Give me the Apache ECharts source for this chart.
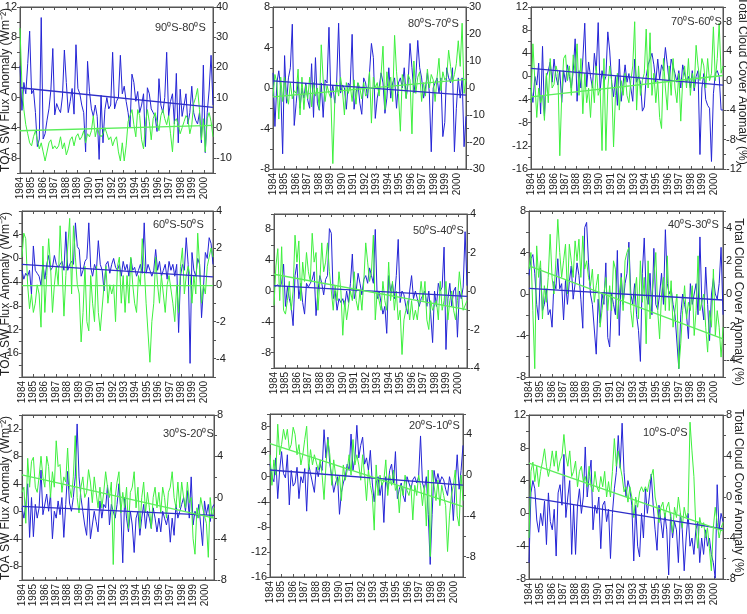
<!DOCTYPE html>
<html>
<head>
<meta charset="utf-8">
<title>TOA SW flux and total cloud cover anomalies</title>
<script src="https://cdn.jsdelivr.net/npm/echarts@6/dist/echarts.min.js"></script>
<style>
  html, body { margin: 0; padding: 0; background: #fff; }
  #main { width: 747px; height: 614px; }
</style>
</head>
<body>
<div id="main"></div>
<script>
// years on the time axis (labels)
var years = [1984, 1985, 1986, 1987, 1988, 1989, 1990, 1991, 1992,
             1993, 1994, 1995, 1996, 1997, 1998, 1999, 2000];
var xMin = 1984, xMax = 2000.8;

var regions = ['90⁰S-80⁰S', '80⁰S-70⁰S', '70⁰S-60⁰S',
               '60⁰S-50⁰S', '50⁰S-40⁰S', '40⁰S-30⁰S',
               '30⁰S-20⁰S', '20⁰S-10⁰S', '10⁰S-0⁰S'];

// TOA SW flux anomaly (Wm-2), bimonthly reading, one row per year
var p1Flux = [4.2, -1.7, 2.0, 0.5, 4.5, 8.8,
  0.5, 1.0, -2.0, -6.5, -5.5, 10.6,
  -5.5, -4.8, -3.0, -1.5, 1.0, 6.5,
  -2.3, -0.8, -1.5, -2.0, 0.2, 6.3,
  2.0, -2.0, -0.5, 1.2, -2.2, 7.0,
  1.2, 0.5, -1.0, -2.0, -7.2, 4.8,
  0.8, -1.5, -2.5, -1.0, -2.5, -8.2,
  0.3, -6.0, -1.6, 0.0, -1.5, -1.0,
  6.0, -1.5, -0.5, 0.0, 5.6, 0.5,
  1.5, -0.5, -2.0, -4.0, 3.1, 2.0,
  -0.5, 0.8, -2.0, -1.0, 0.5, -6.5,
  1.3, 0.5, -1.5, -2.0, -2.5, -4.5,
  2.5, -1.0, -2.0, 0.0, 6.0, -2.5,
  -0.5, 0.5, -3.5, 3.2, -6.0, 1.1,
  -2.5, -1.0, 0.5, -3.5, -2.0, 1.5,
  -2.0, -3.0, -3.5, -2.0, -6.0, 4.3,
  -7.3, -2.0, 1.0, 5.6, -1.0];
var p2Flux = [1.5, -3.8, 0.5, 1.7, 0.0, -6.5,
  3.2, -1.5, 1.0, 2.0, 6.3, -3.7,
  -1.5, 0.7, -2.0, 0.0, -1.0, 0.5,
  -1.2, -2.0, 2.4, -2.9, 3.0, -1.5,
  -2.2, 0.5, -2.9, 0.8, 0.5, 6.0,
  -1.0, 0.3, -1.5, 0.7, 6.4, -0.5,
  0.3, 0.0, -2.1, 0.5, 0.2, 5.3,
  -2.1, -0.5, 0.5, -1.5, -2.6, 1.0,
  0.5, -1.0, 1.5, 4.4, 3.0, -3.0,
  -1.0, 0.0, 1.5, 0.5, -2.5, -1.0,
  2.0, -1.0, 0.5, 1.0, -2.0, 0.5,
  1.0, 0.0, 2.0, -1.0, 0.5, 4.4,
  2.0, -0.5, 1.0, 4.7, 2.0, 1.0,
  -1.0, 0.0, 1.5, -0.5, -6.3, 0.0,
  0.5, 1.0, -0.5, 1.0, -4.8, -3.4,
  2.0, 1.0, 0.5, 2.0, -6.3, -2.0,
  1.0, -1.0, 1.0, -5.8, -2.8];
var p3Flux = [-2, -4.5, 0, -1.5, 2.3, -6.5,
  5.2, -6.8, 0, 1, 2.5, -1,
  3, 0, -1.5, 1, -4.5, 1,
  -1, 2, 0, -2, 1, 6.5,
  -4.3, 1, -2, 3, 9.2, -1.8,
  2.5, 0, -2, 4, 1, 9.3,
  -2.5, 1, -1, 0, 7.7, 4.4,
  -1, -3.5, 0, -5, 3, -4.3,
  -4.3, 2, -1, 0.5, -2, -4.3,
  3, -1, 0, -1, -6, -5.3,
  0, 2, 3, 4, 2, -1,
  3, -0.5, 2, 1, 5, 2,
  -1, 3, 3, 0.5, -1, 1,
  -2, 2, 2, -1, 0, -2,
  1, -2.5, 0, 1, -13.5, -2,
  0.5, -4, -5, -5.5, -14.7, -3,
  0.5, 1, 0, -5.8, -5.8];
var p4Flux = [-2, -3.5, -2.5, -3, -2, -6,
  2.1, -2, -2.5, -3, -4.5, -1,
  -3.5, -1, 0.5, -2, -1.5, 0.5,
  -1, -1.5, -1, -0.5, -2, 4.5,
  -2, -1, -0.5, -1, 6, 2,
  1.5, -3, -2, -0.5, 0, 6,
  -1.5, -3, -1, -2, 3, -1,
  -2, -5.5, -1, -0.5, -2.5, -1,
  0, -1.5, -2, -1, -3, -0.5,
  -2, -1, -3, 0, -2, -1.5,
  -3, -2, -1, -2.5, 6, -2.5,
  -1, -2, -3, -2, 1.5, -2,
  -0.5, -3, -2, -1, -3.5, -0.5,
  -2, -1, -3, -1, -12.5, -3,
  -1, -2, 3.5, -1, -17.7, 1,
  -2, -3, 0, -1, -10, -5,
  1, 0, 3.5, 2.5, -1];
var p5Flux = [0.5, 0.7, 0.8, 0.5, 1, 3.5,
  -2, 0.5, -1, -2, -4.5, 2,
  3.5, -1, 1, -1.5, -3, 1,
  0.5, 1, 1.5, 2.5, -3.2, 0,
  2, 1, -0.5, 1.5, 2, 8.1,
  7.5, -1, 0, -2.5, -1, -1.5,
  -1, -2, 0, -1.5, 1, 4.8,
  -1, 0, 2.3, 1, -0.5, 1.5,
  2, 1, 3, 2, 1, 8,
  -1, 0, -1.5, -3, -2, -5.5,
  2, 0, 1, -1, 2, 6.7,
  -1.5, 0, -0.5, -2, -3, 0,
  2, -1, 0, -1, -2, -1,
  -1, 0, -2, 0, -3, -6.7,
  0, -2, 1, 0, 0.5, 5.7,
  -7.6, -1, 1, -2, 0, 0.5,
  -6, 0, -1, 0.5, 7.7, 0.7];
var p6Flux = [1.8, 3.4, 3.8, 2, -1, -2.5,
  2.5, -1.6, -1, 0.5, -2, -1.5,
  -3.2, 1.2, 0.5, 3.4, 0.5, 1,
  -2.5, 1.3, -1, 1.2, 2.7, -0.5,
  1, 3, 1.8, -0.5, -3.3, 6.4,
  6.9, 3, 0, -1, -1, -5.8,
  -0.5, -2.8, 0, -1, 3, -4.2,
  -5.1, 0, -1, -2, 4.2, -4,
  2, -1, 1, 2, 5, 0,
  -1, 1, -2, -3.5, -6.5, 2,
  5.4, 0, -1, 2, -2, 4.4,
  -1, -1.5, 0, 2, -1, 6.2,
  1, 0, 0.5, -1, -2, -2,
  -7.2, -2, 0, -1, -2, -4.3,
  1, -1, 0, 1, -2, 5.5,
  -1, -2.5, 2.6, -1, -4.5, 0,
  1.5, 0, -0.5, 1, 4.5, -2];
var p7Flux = [0.5, -1, 1, 4, -3.8, 2,
  -3.7, 1, -1, 0.5, 6, -0.5,
  -0.5, 2.5, 0, 2.5, -4, 0,
  -1, 1.5, -0.5, 2, -3.8, 1,
  5.8, 1.2, 0, 2, 5, 12.7,
  5, 2, 0, -2, -3.5, 2,
  -4, -2, 0, -1.5, -3, 1.5,
  -1, 1, 0.5, 3.8, -2, 1,
  0, -1, 1, 4, 0, -7.5,
  2, -1, -3, 0, -2, -6,
  -1, 0, -3.5, -1, 1, -2.5,
  0, -1, -2.5, 0.5, -1, -3,
  -1, -3, 0, -1, -2, -0.5,
  -4.5, -1, -3.5, 1, -1, 0,
  1, 2, 0, 3, -1, 5,
  -2, 0, -1, 1, -2, -5,
  1.5, -0.5, 1, -1.5, 0.5, 1];
var p8Flux = [2, 0, -0.8, 3, -3.5, 1,
  4, 0.5, -0.2, 3.5, -4.5, 1,
  -1.5, -1, 1.5, -3.5, 0, -1,
  1.3, -5.5, 2, 0.5, -1, -2.5,
  1.5, 0, 2, 1, 7.5, 3,
  6.3, 2, 0, -2.5, -1, 0,
  -6, -2.5, -1, 0, 2, 1,
  6.8, 1, 3, 8.2, 3, 5,
  6.3, 2, 3, 1, 4.2, -1,
  -4, -1, 0, -3, -1, -7.3,
  0, -2, 1, 2, -1, 4,
  -3.5, -2, -1, -3, -4, 0,
  -1, -2, -0.5, 0, -1, 0,
  6.5, -1, -2, 0, -6, -14,
  -6, 1, -1, 0.5, -1, 0,
  -0.5, -2, -3, 0, -1.5, -7,
  -1, 3.5, -2, 1, 5];
var p9Flux = [-6, 2.5, 4, 3, -0.8, -2.3,
  0, -1.5, 1.5, -3.8, 2.5, -1,
  -2, 0.5, -5.2, 2.5, 3.5, 1,
  7.2, -0.5, 2, 4, -5, 1,
  -5, 1, 3, 0, 2, 8.1,
  2, 4.5, 6.5, -2, 1, 0,
  2, -4.3, 1, 1.5, -1, 0.5,
  -5.5, 0, 3, 5, 9.5, 5.5,
  11, 5, 2, 4, 3, 1,
  -5.8, 1, -4, -5.3, 0, -3,
  3, 0, 2, 4.8, 1, -2,
  -4.5, 1, -1, -3, 0, -2,
  -7.5, 0, -3, -1, -2, -6,
  0, -2, -7, -3, 0, -4,
  -3, -5, -2, -1, -6, -3,
  -5, -2, -4, -3, -5, -6,
  -7.9, 3.5, -2, 0, -1];

// Total cloud cover anomaly (%), same sampling
var p1Cloud = [33, 14, 6, 1, -2, -5,
  -6, -3, -1, -4, -7, -5,
  -8, -11, -11, -5, -4, -7,
  -6, -7, -6, -3, -7, -5,
  -9, -7, -4, -3, -6, -3,
  -2, -4, -3, -1, -5, -2,
  -3, -1, 4, -3, 0, -2,
  -3, -2, 0, -2, -4, -3,
  -6, -4, -3, -8, -11, -5,
  -11, -6, 2, 4, 6, 1,
  -3, 6, 4, -4, -7, 1,
  6, 2, -4, 3, 5, 2,
  -1, 4, 6, 3, 1, 4,
  -2, -8, 2, 3, 1, -2,
  0, 2, 4, 3, -2, 1,
  8, 10, 13, 6, -4, 3,
  -8, 3, 5, 2, -3];
var p2Cloud = [-3, 5, 2, -11.5, 4, -5,
  4, -3, -6, 2, -4, -1,
  -2, 7, -10, 4, -8, 1,
  -4, 4, -7, 2, -3, 0,
  -8, 16, 3, -5, 1, -2,
  -4, -28, -5, 2, -3, 4,
  -1, -10, 2, -2, 1, -5,
  3, -6, 2, 0, -4, 2,
  -3, -2, 6, -13, 4, 0,
  2, -3, 5, 15.5, -8, 6,
  0, 4, -5, 19.5, 6, -2,
  -16, 5, 2, -4, 5, 3,
  -17, 10, -2, 4, 6, -5,
  2, -3, 7, 0, 5, 3,
  -5, 4, 11, -1, 6, 3,
  4, 14, 8, 2, 5, 9,
  17.5, 8, 24, -2, 3];
var p3Cloud = [-3, 5, 0, -5, -1, -3,
  -2, -5.4, 1, -3, 3, -1,
  -0.5, 2, 1, -10.2, -2, 3,
  3.5, 0, 2, -2, 3.5, 1,
  5, -2, 3, -4.5, 1, -3,
  -1, -5, 0, -3, 2, -2,
  -1, -9.5, 3, -9.5, -1, 2,
  0, -9, -2, 1, -4, 0,
  -2, 1, -2, -3, 0, 2,
  8, -4, 2, -2, 0, 1,
  7, -1, 6.5, -2, 1, -3,
  0, -5, -6.5, 3, -1, -4,
  2, -2, 3, -1, -3, 1,
  -5.5, 0, 2, -1, 3, -2,
  1, -1, 4.8, 2, 0, 3,
  2, -1, 3, 0, 1, 7.3,
  0, 3, 7.8, 1, 2];
var p4Cloud = [1.5, 2.8, 2.5, 0, -1.3, -0.5,
  -1.5, -1, 0, -0.5, -2.3, 2.1,
  -1.5, 0.5, 2.5, 1, -1.5, 0,
  1, 0, 3.2, 1, -1.7, 0.5,
  0.5, 3.6, -0.5, 3.2, 1.5, 0,
  -0.5, -3.1, -1.5, 1, -2, -2.5,
  0.5, -1, -2, 1, -1.5, -2.5,
  -2.5, 0, 1, -1, 0, -0.5,
  0, -2, 1, 1.5, -1, 0.5,
  -1.5, 0.5, -1, 1.5, 0, -1,
  -1.5, 0.5, 0, 2.5, 1, -1,
  -1, -4.2, -2, -1, 1.5, 0,
  -1, 0.5, -0.5, -1.5, 0, 0.5,
  0.5, -1, -2, 0, -1.5, 1,
  2, -0.5, 0.5, 1, 0.5, -1,
  0.5, -0.5, 2.8, 1, -1, 0,
  -0.5, 1, 1.5, 2, 1.5];
var p5Cloud = [-0.75, 1.3, 2.2, -0.5, 2.3, -1,
  -1.2, -0.5, 0.5, -1, 0, 2.9,
  1.5, 2.6, -0.5, 1.5, 0.5, 2,
  1, 0.5, 3.0, 1.5, 2, -1,
  0.5, 2.5, 1, 1.5, 2.5, 1,
  1, -1, 0.3, -0.5, 1, 0,
  -2.3, -0.5, -1.5, -1.6, 0, -0.5,
  1, -0.5, -1, 0, -1, 0.5,
  2.5, 1.5, 0.5, 1, 2.9, -1.5,
  0, -0.5, -1, 0.5, -0.5, -1,
  1.5, -0.5, 0.5, -1, 0, -1.5,
  -1, -3.3, -1.5, -1, -0.5, -1.5,
  -0.5, -1.5, -1, -1.5, -0.5, 0.5,
  -0.5, 0.5, -1.5, -2, -0.5, -1,
  -1, -0.5, -1.5, 0.5, -1, -0.5,
  0.5, -1.5, -0.5, 0, -1, -1.5,
  -0.5, 1, 0, -1, -1, -0.5];
var p6Cloud = [1.5, 2.5, -1, -4.5, 2.9, 1,
  2, -1.5, 0.5, -0.5, 1, 3.6,
  1, 0, 2, 4.5, 2.5, 1,
  2, 3, 0, 3, 2, 1,
  3.2, 2, 3.3, 1, 3.5, 1.5,
  2, 1, 0.5, 1.5, -0.5, 0.5,
  1.2, -2, -1, 0, 1, -1,
  0.5, -1, 2, 1.5, -1.5, 0,
  1, -1, 2, 2.5, 2.8, -1,
  -2, 0, 1, -1.5, 2, -0.5,
  1, -3, 2, -1.5, 0, 1,
  2.5, -1, -2.7, 0, 1, -1,
  2.3, -1, 0.8, -2, -1, 0,
  -4.5, -3, -1, 0.5, -1.5, -0.5,
  -1, 0.5, -2.5, -1, 2.3, -1,
  -0.5, 0, -2, -3.5, -1, -2,
  1.5, -2.5, -1, -2, -3.8, -2];
var p7Cloud = [0.5, 1, -2.5, 3.8, 1, 3.5,
  3.9, 1, 0.5, 2, 4, 2,
  1, 4, 3, 0, 2.5, 1,
  5.5, 3, 3.2, 0.5, 2, 1.5,
  4.8, 1, 0, 2, 6, 0,
  -1.5, 1, 2, 0, 0.5, 2.7,
  1.5, -0.5, 2, 0.5, -1, 1,
  -1, 0.5, 2.5, 1, 0, 1.5,
  -6.5, 0, 1.5, 2.5, -1.5, 0.5,
  -1, 1, -3, 0.5, 1, 2.5,
  -1, 1, -3, 0, 1.5, -1.5,
  0.5, -1, -3, 0, 1, -1,
  0.5, -1.5, 1, 0, -2, 0.5,
  1, 2.5, 0, -1, 1.5, -1,
  1.5, 0, -1, 1.5, -0.5, 0,
  -4, -5.5, -1, -2, 0, -1,
  -1, -2.5, -5.8, 0, -2, -1];
var p8Cloud = [2, -1, 1.5, 0, 5, 2,
  3, 4.5, 3.5, 4.5, 2.5, 3,
  4.7, 4, 2, 3, 1, 2,
  3.5, 4.8, 0.5, 2.5, 1, 2,
  2, 0.5, 1.5, 0, -2.4, 1,
  3.5, 2, -1, 1.5, 0, -1,
  0, -2.5, 1, -0.5, 0.5, 2,
  0, 3.5, 1, 2, 1, -0.5,
  2, 0, -2.5, 0.5, -1, -2,
  -5.4, 1, -2, 0, -1, -0.5,
  1.5, -2, 0, -1, 0.5, -1.5,
  -1, -3.7, -1, -2, 0, -1.5,
  -2, -1, -4.4, -1, -2, 0,
  -1, -3, -1, -5, 0.5, -8,
  0.5, -1, -2.5, -0.5, -3, -1,
  -2, -3, -7.5, -4, -2, -1,
  0.5, -4, -5, 0, -2.5];
var p9Cloud = [-4, 2.5, 3.4, 1.5, 3, 1,
  2.5, 3.5, 4.7, 3, 2, 3,
  4.5, 3, 4.5, 2.5, 3.5, 4,
  6.1, 4, 3, 4.5, 2, 2.5,
  3.5, 1, 2.5, 3, 1.5, 2,
  1, 3, 1, 0.5, 2.5, 1,
  0.5, 2, 1, 2.5, 0, 1.5,
  0, 2.5, 5.7, 3, 4.5, 3,
  2, 0.5, 1, -0.5, 1, 0,
  -2, 0, -1, 0.5, 1, 0.5,
  1, 0.5, 1.5, 2, 2.7, 0,
  -1, -2.5, -1, -0.5, -2, -1,
  -0.5, -2, -3.5, -1, -2, 0,
  0, -3, -1, -2, -1.5, 7.3,
  4.5, 2, -3, -5, -2, -3,
  -2.5, -4, -3, -5, -7.2, -3,
  -1, -2.5, -4, -3, -2.5];

// linear trend end values [start, end]
var fluxTrend = [[1.3, -1.3], [0.7, -0.7], [1.4, -1.5], [-1.0, -3.1], [0.7, -0.7],
                 [0.55, -0.58], [0.7, -0.6], [1.07, -1.33], [1.95, -1.9]];
var cloudTrend = [[-1, 0.8], [-3.3, 3.2], [-2.2, 0.7], [-0.05, -0.05], [0.87, -0.97],
                  [1.7, -2.7], [2.2, -2.0], [3.1, -3.1], [3.3, -3.3]];

// axis ranges [min, max, interval] and labelled ticks
var fluxRange = [[-10, 12, 2], [-8, 8, 2], [-16, 12, 2], [-20, 8, 2], [-10, 10, 2],
                 [-8, 8, 2], [-10, 14, 2], [-16, 10, 2], [-8, 12, 2]];
var cloudRange = [[-15, 40, 5], [-30, 30, 5], [-12, 10, 2], [-5, 4, 1], [-4, 4, 1],
                  [-5, 5, 1], [-8, 8, 2], [-10, 6, 2], [-8, 8, 2]];
var fluxTicks = [[12, 8, 4, 0, -4, -8], [8, 4, 0, -4, -8], [12, 8, 4, 0, -4, -8, -12, -16],
                 [4, 0, -4, -8, -12, -16], [8, 4, 0, -4, -8], [8, 4, 0, -4, -8],
                 [12, 8, 4, 0, -4, -8], [8, 4, 0, -4, -8, -12, -16], [12, 8, 4, 0, -4, -8]];
var cloudTicks = [[40, 30, 20, 10, 0, -10], [30, 20, 10, 0, -10, -20, -30], [8, 4, 0, -4, -8, -12],
                  [4, 2, 0, -2, -4], [4, 2, 0, -2, -4], [4, 2, 0, -2, -4],
                  [8, 4, 0, -4, -8], [4, 0, -4, -8], [8, 4, 0, -4, -8]];

var fluxData = [p1Flux, p2Flux, p3Flux, p4Flux, p5Flux, p6Flux, p7Flux, p8Flux, p9Flux];
var cloudData = [p1Cloud, p2Cloud, p3Cloud, p4Cloud, p5Cloud, p6Cloud, p7Cloud, p8Cloud, p9Cloud];

// panel boxes [left, top, width, height] and region label positions
var boxes = [[20, 7, 193, 166], [273, 7, 193, 162], [531, 7, 192, 162],
             [21, 211, 192, 166], [274, 214, 193, 154], [529, 211, 194, 166],
             [22, 415, 192, 165], [270, 414, 193, 163], [529, 415, 194, 164]];
var labelPos = [[155, 22], [408, 18], [671, 16], [153, 219], [413, 225],
                [668, 219], [163, 428], [409, 420], [643, 427]];

var BLUE = '#2424d6', GREEN = '#3ef03e';
var AXIS = '#555';

function toPoints(vals) {
  var step = (xMax - xMin) / (vals.length - 1);
  return vals.map(function (v, i) { return [xMin + i * step, v]; });
}

function tickFormatter(list) {
  return function (v) { return list.indexOf(v) >= 0 ? String(v) : ''; };
}

var chart = echarts.init(document.getElementById('main'), null, { renderer: 'canvas' });

var grid = [], xAxis = [], yAxis = [], series = [], graphic = [];

boxes.forEach(function (b, i) {
  grid.push({ left: b[0], top: b[1], width: b[2], height: b[3], show: true,
              borderColor: AXIS, borderWidth: 1, backgroundColor: 'transparent' });

  // bottom axis with year labels
  xAxis.push({
    type: 'value', gridIndex: i, position: 'bottom', min: xMin, max: xMax, interval: 1,
    axisLine: { onZero: false, lineStyle: { color: AXIS } },
    axisTick: { inside: true, length: 3, lineStyle: { color: AXIS } },
    axisLabel: { rotate: 90, fontSize: 10, color: '#222', margin: 4,
                 fontFamily: 'Liberation Sans', showMaxLabel: false,
                 formatter: function (v) { return years.indexOf(v) >= 0 ? String(v) : ''; } },
    splitLine: { show: false }
  });
  // top axis, ticks only
  xAxis.push({
    type: 'value', gridIndex: i, position: 'top', min: xMin, max: xMax, interval: 1,
    axisLine: { onZero: false, lineStyle: { color: AXIS } },
    axisTick: { inside: true, length: 3, lineStyle: { color: AXIS } },
    axisLabel: { show: false },
    splitLine: { show: false }
  });

  var fr = fluxRange[i], cr = cloudRange[i];
  yAxis.push({
    type: 'value', gridIndex: i, position: 'left', min: fr[0], max: fr[1], interval: fr[2],
    axisLine: { show: true, onZero: false, lineStyle: { color: AXIS } },
    axisTick: { show: true, length: 3, lineStyle: { color: AXIS } },
    axisLabel: { fontSize: 11, color: '#222', margin: 3, fontFamily: 'Liberation Sans',
                 formatter: tickFormatter(fluxTicks[i]) },
    splitLine: { show: false }
  });
  yAxis.push({
    type: 'value', gridIndex: i, position: 'right', min: cr[0], max: cr[1], interval: cr[2],
    axisLine: { show: true, onZero: false, lineStyle: { color: AXIS } },
    axisTick: { show: true, length: 3, lineStyle: { color: AXIS } },
    axisLabel: { fontSize: 11, color: '#222', margin: 3, fontFamily: 'Liberation Sans',
                 formatter: tickFormatter(cloudTicks[i]) },
    splitLine: { show: false }
  });

  series.push({
    type: 'line', xAxisIndex: 2 * i, yAxisIndex: 2 * i, data: toPoints(fluxData[i]),
    symbol: 'none', lineStyle: { color: BLUE, width: 1 }, z: 2
  });
  series.push({
    type: 'line', xAxisIndex: 2 * i, yAxisIndex: 2 * i + 1, data: toPoints(cloudData[i]),
    symbol: 'none', lineStyle: { color: GREEN, width: 1 }, z: 3
  });
  series.push({
    type: 'line', xAxisIndex: 2 * i, yAxisIndex: 2 * i,
    data: [[xMin, fluxTrend[i][0]], [xMax, fluxTrend[i][1]]],
    symbol: 'none', lineStyle: { color: '#2e2ec8', width: 1.3 }, z: 4
  });
  series.push({
    type: 'line', xAxisIndex: 2 * i, yAxisIndex: 2 * i + 1,
    data: [[xMin, cloudTrend[i][0]], [xMax, cloudTrend[i][1]]],
    symbol: 'none', lineStyle: { color: '#5cee5c', width: 1.3 }, z: 4
  });

  graphic.push({
    type: 'text', x: labelPos[i][0], y: labelPos[i][1], z: 10,
    style: { text: regions[i], fontSize: 11, fill: '#333', fontFamily: 'Liberation Sans',
             align: 'left', verticalAlign: 'top' }
  });
});

// axis titles
[90, 294, 498].forEach(function (y) {
  graphic.push({
    type: 'text', x: 6, y: y, rotation: Math.PI / 2, z: 10,
    style: { text: 'TOA SW Flux Anomaly (Wm⁻²)', fontSize: 12, fill: '#222',
             fontFamily: 'Liberation Sans', align: 'center', verticalAlign: 'middle' }
  });
});
[[742, 81], [738, 302], [738, 493]].forEach(function (p) {
  graphic.push({
    type: 'text', x: p[0], y: p[1], rotation: -Math.PI / 2, z: 10,
    style: { text: 'Total Cloud Cover Anomaly (%)', fontSize: 12, fill: '#222',
             fontFamily: 'Liberation Sans', align: 'center', verticalAlign: 'middle' }
  });
});

chart.setOption({
  animation: false,
  backgroundColor: '#fff',
  grid: grid,
  xAxis: xAxis,
  yAxis: yAxis,
  series: series,
  graphic: graphic
});
</script>
</body>
</html>
